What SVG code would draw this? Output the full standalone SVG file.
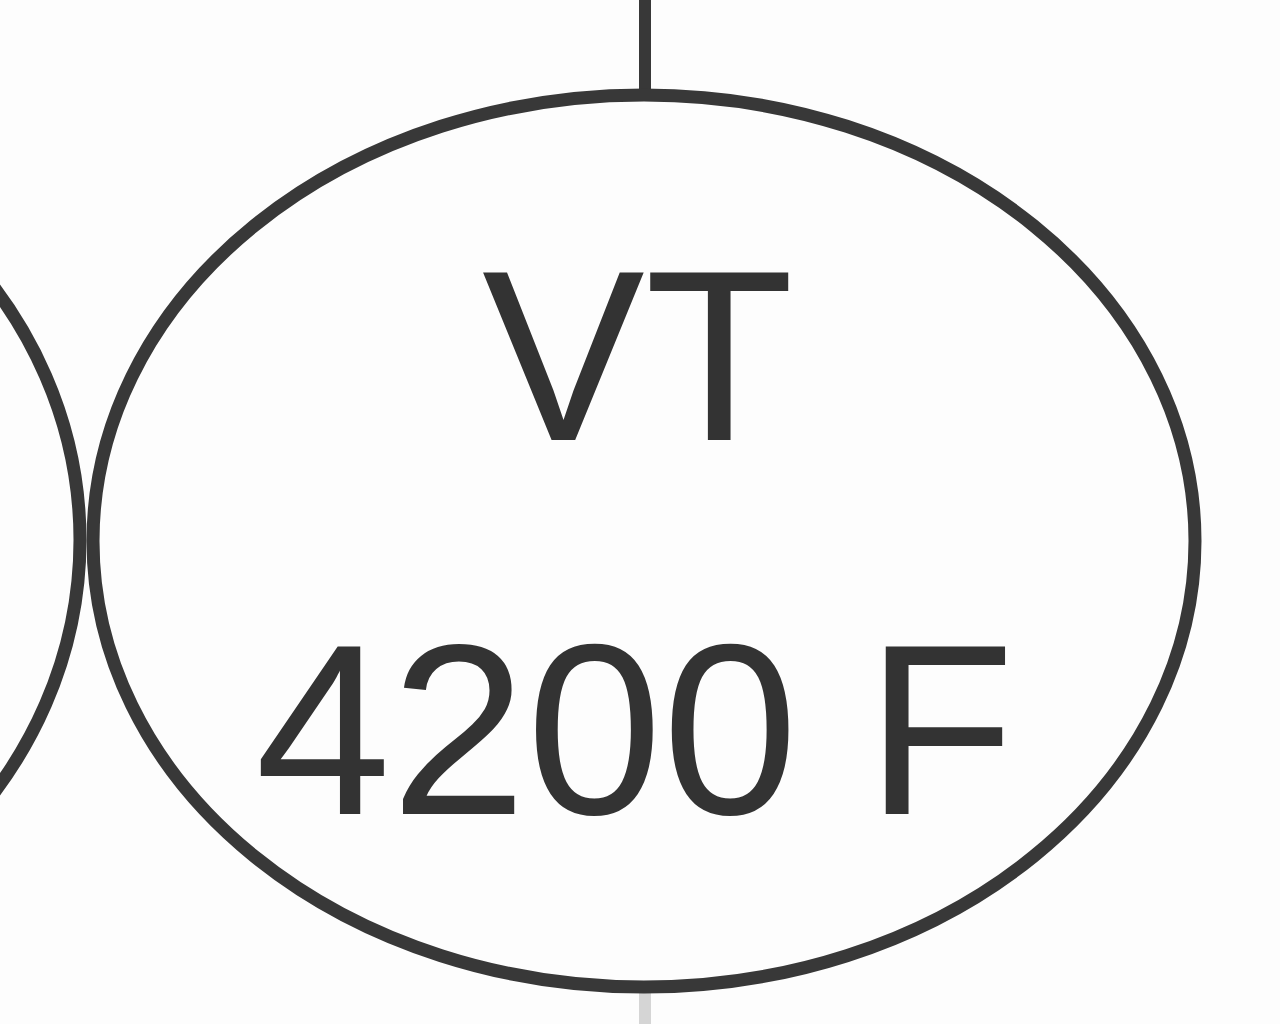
<svg xmlns="http://www.w3.org/2000/svg" width="1280" height="1024" viewBox="0 0 1280 1024">
<style>
.node{fill:none;stroke:#383838;stroke-width:13}
.lbl{font-family:"Liberation Sans",Arial,sans-serif;font-size:244px;fill:#333;text-anchor:middle}
.conn{stroke:#383838;stroke-width:12;fill:none}
</style>
<rect width="1280" height="1024" fill="#fdfdfd"/>
<g id="connectors">
<line class="conn" x1="645" y1="0" x2="645" y2="96"/>
<line class="conn" x1="645" y1="987" x2="645" y2="1024" opacity="0.2"/>
</g>
<g id="node-left">
<ellipse class="node" cx="-410" cy="540" rx="490" ry="446"/>
</g>
<g id="node-vt">
<ellipse class="node" cx="644" cy="541" rx="551" ry="446"/>
<text class="lbl" x="638" y="440">VT</text>
<text class="lbl" x="635" y="814">4200 F</text>
</g>
</svg>
